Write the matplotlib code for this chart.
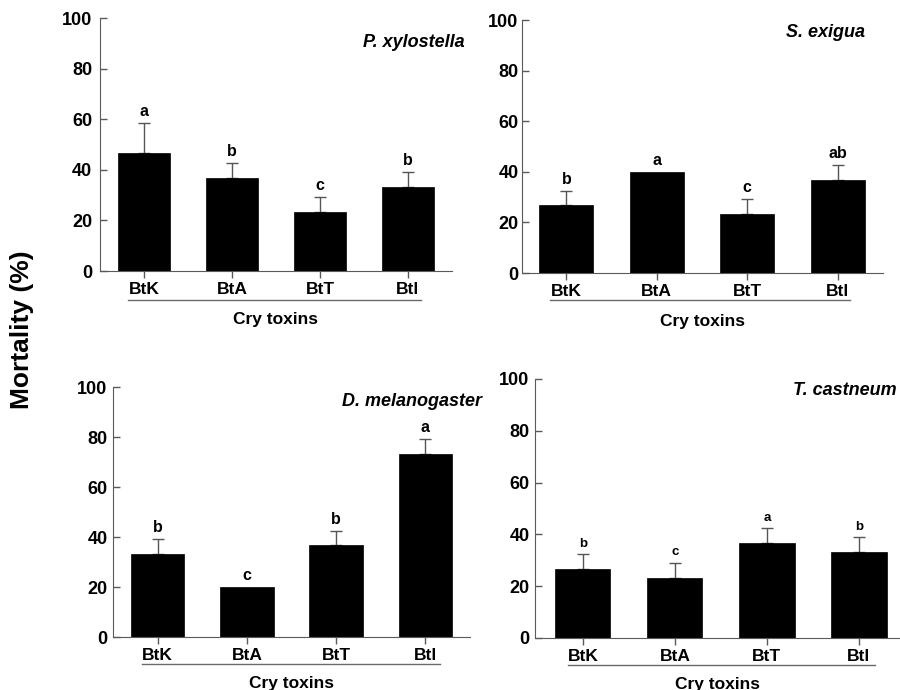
import matplotlib
matplotlib.use("Agg")
import matplotlib.pyplot as plt
from matplotlib.transforms import blended_transform_factory

plt.rcParams['font.family'] = ['Liberation Sans', 'DejaVu Sans']
plt.rcParams['font.weight'] = 'bold'

categories = ["BtK", "BtA", "BtT", "BtI"]
tick_labels = ["BtK", "BtA", "BtT", "Btl"]

species = ["P. xylostella", "S. exigua", "D. melanogaster", "T. castneum"]
means = [
    [46.7, 36.7, 23.3, 33.3],
    [26.7, 40.0, 23.3, 36.7],
    [33.3, 20.0, 36.7, 73.3],
    [26.7, 23.3, 36.7, 33.3],
]
errors = [
    [11.7, 5.8, 5.8, 5.8],
    [5.8, 0.0, 5.8, 5.8],
    [5.8, 0.0, 5.8, 5.8],
    [5.8, 5.8, 5.7, 5.8],
]
letters = [
    ["a", "b", "c", "b"],
    ["b", "a", "c", "ab"],
    ["b", "c", "b", "a"],
    ["b", "c", "a", "b"],
]

# layout (figure fractions)
axes_rects = [
    [0.1111, 0.6072, 0.3911, 0.3667],
    [0.5800, 0.6043, 0.4011, 0.3667],
    [0.1256, 0.0768, 0.3967, 0.3623],
    [0.5944, 0.0754, 0.4060, 0.3754],
]
xlims = [(-0.5, 3.5), (-0.49, 3.5), (-0.5, 3.5), (-0.52, 3.45)]
label_pos = [(1.037, 0.905), (0.95, 0.949), (1.034, 0.944), (0.989, 0.957)]
underline_y = [-29 / 253, -27 / 253, -27 / 250, -27 / 259]
underline_x = [(-0.18, 3.15), (-0.18, 3.14), (-0.17, 3.16), (-0.16, 3.17)]
letter_size = [11.5, 11.5, 11.5, 9.5]
xlabel_pad = [10.5, 10.5, 9, 9]
ytick_pad = [5.5, 2.5, 4, 4]

spine_color = "#5a5a5a"

fig = plt.figure(figsize=(9, 6.9), dpi=100)

for i in range(4):
    ax = fig.add_axes(axes_rects[i])
    x = list(range(len(categories)))
    ax.bar(x, means[i], width=0.6, color="black", edgecolor="black", linewidth=0.5, zorder=2)
    for xi, m, e in zip(x, means[i], errors[i]):
        if e > 0:
            ax.errorbar(xi, m, yerr=[[0], [e]], fmt="none", ecolor="#555555",
                        elinewidth=1.0, capsize=4, capthick=1.0, zorder=1)
    for xi, m, e, lab in zip(x, means[i], errors[i], letters[i]):
        ax.annotate(lab, (xi, m + e), xytext=(0, 3), textcoords="offset points",
                    ha="center", va="bottom", fontsize=letter_size[i], fontweight="bold")
    ax.set_ylim(0, 100)
    ax.set_xlim(*xlims[i])
    ax.set_yticks([0, 20, 40, 60, 80, 100])
    ax.set_xticks(x)
    ax.set_xticklabels(tick_labels, fontsize=12.5, fontweight="bold")
    ax.tick_params(axis="y", direction="in", labelsize=13, length=5, width=1,
                   color=spine_color, pad=ytick_pad[i])
    ax.tick_params(axis="x", direction="out", length=5, width=1, color=spine_color, pad=3)
    for lbl in ax.get_yticklabels():
        lbl.set_fontweight("bold")
    ax.spines["top"].set_visible(False)
    ax.spines["right"].set_visible(False)
    ax.spines["left"].set_color(spine_color)
    ax.spines["bottom"].set_color(spine_color)
    ax.set_xlabel("Cry toxins", fontsize=12.5, fontweight="bold", labelpad=xlabel_pad[i])
    trans = blended_transform_factory(ax.transData, ax.transAxes)
    ax.plot(list(underline_x[i]), [underline_y[i]] * 2, transform=trans,
            color="#6a6a6a", linewidth=1.0, clip_on=False)
    ax.text(label_pos[i][0], label_pos[i][1], species[i], transform=ax.transAxes,
            ha="right", va="center", fontsize=13, fontweight="bold", style="italic")

fig.text(0.025, 0.522, "Mortality (%)", rotation=90, ha="center", va="center",
         fontsize=19, fontweight="bold")

fig.savefig("out.png", dpi=100)
